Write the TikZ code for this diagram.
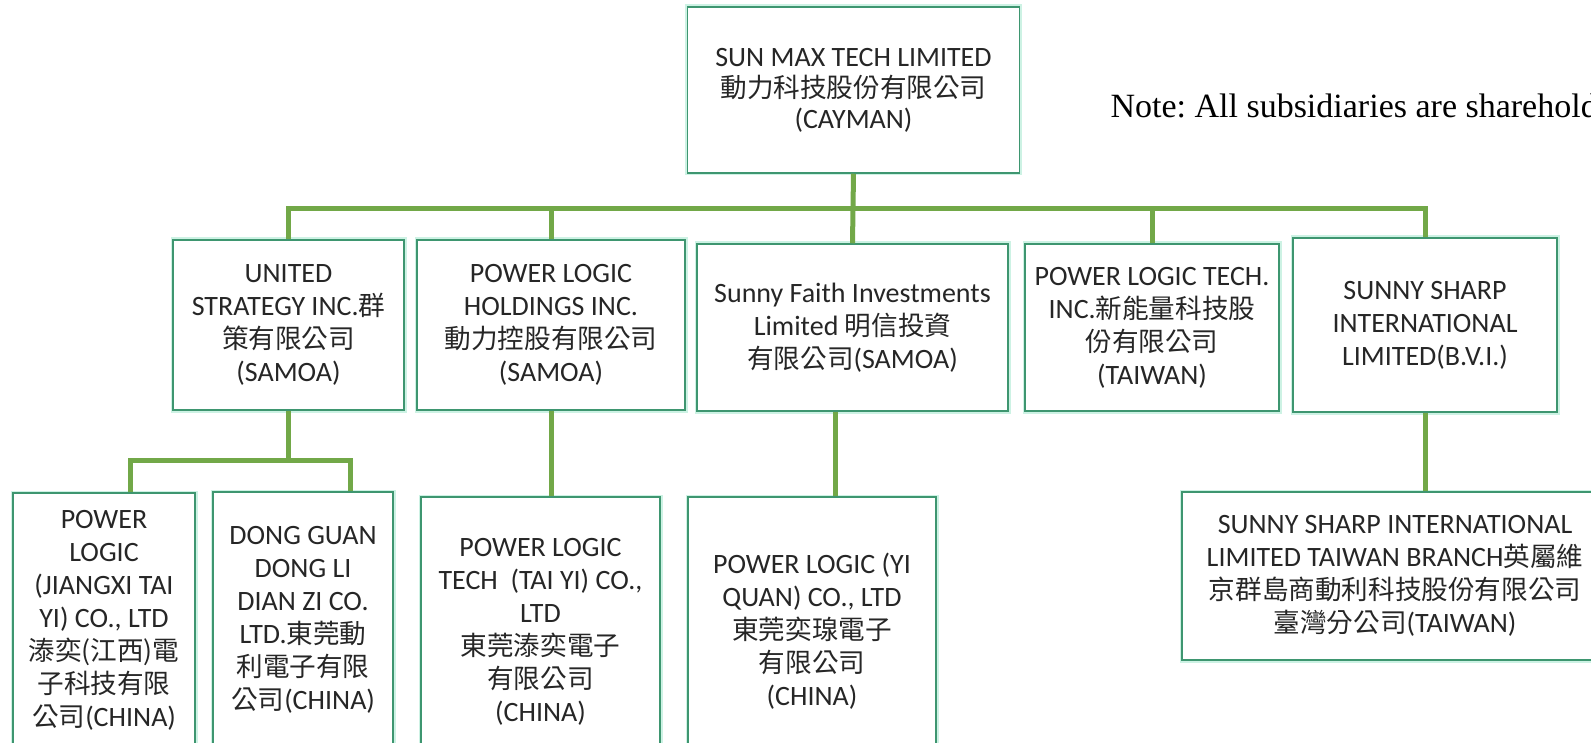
\documentclass[tikz,border=0pt]{standalone}
\usepackage{fontspec}
\setmainfont{Carlito}
\newfontfamily\cjk[Scale=0.95]{Noto Sans CJK TC}
\newfontfamily\notefont{Liberation Serif}
\definecolor{boxline}{RGB}{62,150,112}
\definecolor{boxglow}{RGB}{205,242,228}
\definecolor{linkgreen}{RGB}{114,168,72}
\newcommand{\zh}[1]{{\cjk #1}}

\begin{document}
\begin{tikzpicture}[x=1pt,y=-1pt,
	orgbox/.style={draw=boxline,line width=1.5pt,fill=white,align=center,inner sep=0pt,
		text=black!85,font=\fontsize{28}{33}\selectfont,preaction={draw=boxglow,line width=5pt}},
	link/.style={draw=linkgreen,line width=5pt}
	]
	\clip (0,0) rectangle (1591,743);
	\node[orgbox,minimum width=332,minimum height=166,font=\fontsize{28}{31}\selectfont] (top) at (853.5,90)
		{SUN MAX TECH LIMITED\\ \zh{動力科技股份有限公司}\\ (CAYMAN)};
	\node[anchor=base west,font=\notefont\frenchspacing\fontsize{34}{40}\selectfont] (note) at (1107,118)
		{Note: All subsidiaries are sharehold};

	\node[orgbox,minimum width=231,minimum height=170] (m1) at (288.5,325)
		{UNITED\\ STRATEGY INC.\zh{群}\\ \zh{策有限公司}\\ (SAMOA)};
	\node[orgbox,minimum width=268,minimum height=170] (m2) at (551,325)
		{POWER LOGIC\\ HOLDINGS INC.\\ \zh{動力控股有限公司}\\ (SAMOA)};
	\node[orgbox,minimum width=311,minimum height=167] (m3) at (852.5,327.5)
		{Sunny Faith Investments\\ Limited \zh{明信投資}\\ \zh{有限公司}(SAMOA)};
	\node[orgbox,minimum width=254,minimum height=167] (m4) at (1152,327.5)
		{POWER LOGIC TECH.\\ INC.\zh{新能量科技股}\\ \zh{份有限公司}\\ (TAIWAN)};
	\node[orgbox,minimum width=264,minimum height=174] (m5) at (1425,325)
		{SUNNY SHARP\\ INTERNATIONAL\\ LIMITED(B.V.I.)};

	\node[orgbox,minimum width=182,minimum height=254] (b1) at (104,620)
		{POWER\\ LOGIC\\ (JIANGXI TAI\\ YI) CO., LTD\\ \zh{溙奕(江西)電}\\ \zh{子科技有限}\\ \zh{公司}(CHINA)};
	\node[orgbox,minimum width=180,minimum height=256] (b2) at (303,620)
		{DONG GUAN\\ DONG LI\\ DIAN ZI CO.\\ LTD.\zh{東莞動}\\ \zh{利電子有限}\\ \zh{公司}(CHINA)};
	\node[orgbox,minimum width=239,minimum height=270] (b3) at (540.5,632)
		{POWER LOGIC\\ TECH~~(TAI YI) CO.,\\ LTD\\ \zh{東莞溙奕電子}\\ \zh{有限公司}\\ (CHINA)};
	\node[orgbox,minimum width=248,minimum height=268] (b4) at (812,631)
		{POWER LOGIC (YI\\ QUAN) CO., LTD\\ \zh{東莞奕瑔電子}\\ \zh{有限公司}\\ (CHINA)};
	\node[orgbox,minimum width=426,minimum height=168] (b5) at (1395,576)
		{SUNNY SHARP INTERNATIONAL\\ LIMITED TAIWAN BRANCH\zh{英屬維}\\ \zh{京群島商動利科技股份有限公司}\\ \zh{臺灣分公司}(TAIWAN)};

	\coordinate (bus) at (853,209);
	\draw[link] (top.south) -- (m3.north);
	\foreach \n in {m1,m2,m4,m5}
		\draw[link] (\n.north) |- (bus);

	\coordinate (sub1) at (130,460);
	\coordinate (sub2) at (350,460);
	\draw[link] (m1.south) -- (m1.south |- sub1);
	\draw[link] (b1.north -| sub1) -- (sub1) -- (sub2) -- (b2.north -| sub2);
	\draw[link] (m2.south) -- (m2.south |- b3.north);
	\coordinate (drop3) at (835,0);
	\draw[link] (m3.south -| drop3) -- (b4.north -| drop3);
	\draw[link] (m5.south) -- (m5.south |- b5.north);
\end{tikzpicture}
\end{document}
